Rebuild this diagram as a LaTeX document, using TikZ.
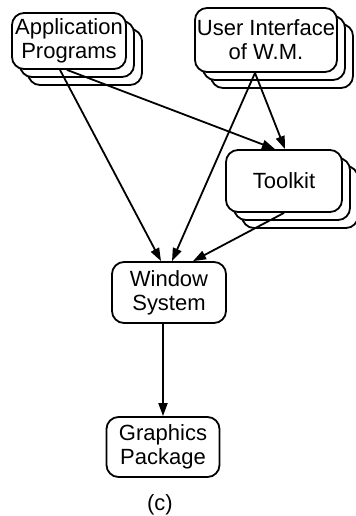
\documentclass[tikz,border=0pt]{standalone}
\usepackage{fontspec}
\setmainfont{Liberation Sans}
\usetikzlibrary{arrows.meta}

\tikzset{
  box/.style = {draw, fill=white, rounded corners=6pt, line width=0.9pt, inner sep=0pt, align=center, font=\fontsize{11}{12}\selectfont},
  arr/.style = {line width=0.9pt, -{Triangle[length=6.5pt,width=4.5pt]}}
}

\begin{document}
\begin{tikzpicture}[x=0.5pt, y=-0.5pt]

\useasboundingbox (0,0) rectangle (355,516);

% stacked boxes
\foreach \d in {16,8} {\node [box, minimum width=57pt, minimum height=28pt] at (69+\d,41+\d) {};}
\node [box, minimum width=57pt, minimum height=28pt] (ap) at (69,41) {Application\\Programs};

\foreach \d in {16,8} {\node [box, minimum width=71pt, minimum height=32pt] at (266+\d,40+\d) {};}
\node [box, minimum width=71pt, minimum height=32pt] (ui) at (266,40) {User Interface\\of W.M.};

\foreach \d in {16,8} {\node [box, minimum width=58pt, minimum height=31pt] at (284+\d,181+\d) {};}
\node [box, minimum width=58pt, minimum height=31pt] (tk) at (284,181) {Toolkit};

% single boxes
\node [box, minimum width=57pt, minimum height=30.5pt] (ws) at (169,292.5) {Window\\System};
\node [box, minimum width=56.5pt, minimum height=30pt] (gp) at (163,447) {Graphics\\Package};

\node [font=\fontsize{11}{12}\selectfont] (cap) at (160,505) {(c)};

% arrows
\draw [arr] ([xshift=-4.5pt]ap.south) -- ([xshift=-4pt]ws.north);
\draw [arr] ([xshift=-1pt]ap.south) -- ([xshift=-4.5pt]tk.north);
\draw [arr] ([xshift=-5.5pt]ui.south) -- ([xshift=1.5pt]ws.north);
\draw [arr] ([xshift=-5.5pt]ui.south) -- ([xshift=0.5pt]tk.north);
\draw [arr] (tk.south) -- ([xshift=12pt]ws.north);
\draw [arr] (ws.south -| gp.north) -- (gp.north);

\end{tikzpicture}
\end{document}
